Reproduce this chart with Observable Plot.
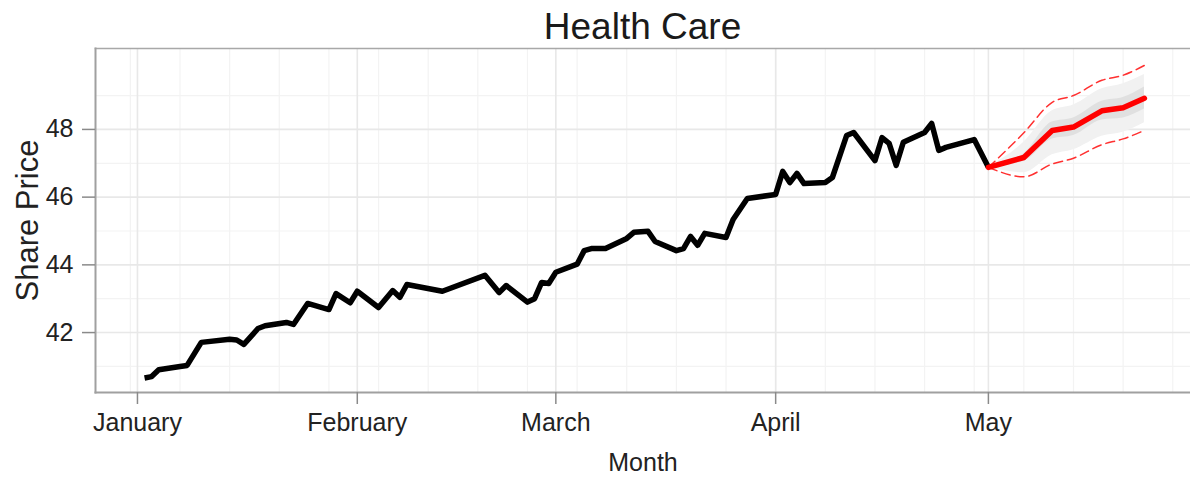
<!DOCTYPE html>
<html>
<head>
<meta charset="utf-8">
<script src="https://cdn.jsdelivr.net/npm/d3@7"></script>
<script src="https://cdn.jsdelivr.net/npm/@observablehq/plot@0.6"></script>
<style>
  body { margin: 0; background: #fff; font-family: "Liberation Sans", Arial, sans-serif; }
  #wrap { width: 1190px; height: 478px; position: relative; overflow: hidden; }
  #title { height: 48px; position: relative; }
  #title span { position: absolute; left: 95px; width: 1095px; top: 8px; text-align: center;
    font-size: 37px; line-height: 1; color: #1a1a1a; }
</style>
</head>
<body>
<div id="wrap">
  <div id="title"><span>Health Care</span></div>
  <div id="chart"></div>
</div>
<script>
// ---- data ----
const obsDates = ["2014-01-02","2014-01-03","2014-01-04","2014-01-07","2014-01-08","2014-01-10","2014-01-14","2014-01-15","2014-01-16","2014-01-18","2014-01-19","2014-01-22","2014-01-23","2014-01-25","2014-01-28","2014-01-29","2014-01-31",
"2014-02-01","2014-02-04","2014-02-06","2014-02-07","2014-02-08","2014-02-13","2014-02-19","2014-02-21","2014-02-22","2014-02-25","2014-02-26","2014-02-27","2014-02-28",
"2014-03-01","2014-03-04","2014-03-05","2014-03-06","2014-03-08","2014-03-11","2014-03-12","2014-03-14","2014-03-15","2014-03-18","2014-03-19","2014-03-20","2014-03-21","2014-03-22","2014-03-25","2014-03-26","2014-03-28",
"2014-04-01","2014-04-02","2014-04-03","2014-04-04","2014-04-05","2014-04-08","2014-04-09","2014-04-11","2014-04-12","2014-04-15","2014-04-16","2014-04-17","2014-04-18","2014-04-19","2014-04-22","2014-04-23","2014-04-24","2014-04-25","2014-04-29","2014-05-01"];
const obsValues = [40.66,40.70,40.90,41.00,41.03,41.71,41.80,41.78,41.65,42.12,42.20,42.30,42.24,42.86,42.68,43.15,42.88,
43.22,42.74,43.24,43.04,43.42,43.22,43.69,43.18,43.39,42.90,43.00,43.48,43.45,
43.78,44.02,44.42,44.48,44.48,44.78,44.96,44.99,44.69,44.42,44.48,44.84,44.58,44.93,44.81,45.34,45.96,
46.08,46.76,46.43,46.70,46.40,46.43,46.58,47.82,47.91,47.08,47.76,47.59,46.94,47.62,47.91,48.18,47.38,47.47,47.70,46.88];

const fcDates   = ["2014-05-01","2014-05-06","2014-05-10","2014-05-13","2014-05-17","2014-05-20","2014-05-23"];
const fcMean    = [46.88,47.17,47.97,48.07,48.55,48.64,48.92];
const fcLower   = [46.88,46.60,46.98,47.15,47.55,47.72,47.97];   // dashed
const fcUpper   = [46.88,47.90,48.80,49.00,49.45,49.60,49.89];   // dashed
const fanOutLo  = [46.88,46.72,47.25,47.40,47.80,47.92,48.20];
const fanOutHi  = [46.88,47.62,48.55,48.72,49.20,49.35,49.62];
const fanInLo   = [46.88,47.06,47.72,47.82,48.28,48.34,48.60];
const fanInHi   = [46.88,47.28,48.22,48.34,48.83,48.94,49.25];

const monthTicks = ["2014-01-01","2014-02-01","2014-03-01","2014-04-01","2014-05-01"];
const weekBreaks = ["2013-12-31","2014-01-07","2014-01-14","2014-01-21","2014-01-28","2014-02-04","2014-02-11","2014-02-18","2014-02-25","2014-03-04","2014-03-11","2014-03-18","2014-03-25","2014-04-01","2014-04-08","2014-04-15","2014-04-22","2014-04-29","2014-05-06","2014-05-13","2014-05-20","2014-05-27"];
const yTicks = [42, 44, 46, 48];
const yMinor = [41, 43, 45, 47, 49];
const xDomain = ["2013-12-26T02:00:00Z", "2014-05-29T12:00:00Z"];
const yDomain = [40.23, 50.39];

// ---- build tables ----
const P = d3.isoParse;
const obs = obsDates.map((d, i) => ({date: P(d), value: obsValues[i]}));
const fc = fcDates.map((d, i) => ({date: P(d), mean: fcMean[i], lo: fcLower[i], hi: fcUpper[i],
  olo: fanOutLo[i], ohi: fanOutHi[i], ilo: fanInLo[i], ihi: fanInHi[i]}));
const months = monthTicks.map(P);
const weeks = weekBreaks.map(P);
const fmt = d3.utcFormat("%B");

const chart = Plot.plot({
  width: 1190,
  height: 430,
  marginTop: 0,
  marginBottom: 86,
  marginLeft: 95,
  marginRight: 0,
  style: {fontFamily: "Liberation Sans, Arial, sans-serif", background: "#fff", overflow: "visible"},
  x: {type: "utc", domain: xDomain.map(P)},
  y: {domain: yDomain},
  marks: [
    // minor grid
    Plot.ruleY(yMinor, {stroke: "#f3f3f3", strokeWidth: 1.2}),
    Plot.ruleX(weeks, {stroke: "#f3f3f3", strokeWidth: 1.2}),
    // major grid
    Plot.ruleY(yTicks, {stroke: "#e8e8e8", strokeWidth: 1.6}),
    Plot.ruleX(months, {stroke: "#e8e8e8", strokeWidth: 1.6}),
    // fan
    Plot.areaY(fc, {x: "date", y1: "olo", y2: "ohi", fill: "#f1f1f1", curve: "monotone-x"}),
    Plot.areaY(fc, {x: "date", y1: "ilo", y2: "ihi", fill: "#e0e0e0", curve: "monotone-x"}),
    // observed
    Plot.line(obs, {x: "date", y: "value", stroke: "#000", strokeWidth: 5.5, strokeLinejoin: "round", strokeLinecap: "butt"}),
    // forecast intervals
    Plot.line(fc, {x: "date", y: "lo", stroke: "#ff3030", strokeWidth: 1.5, strokeDasharray: "9,5", curve: "monotone-x"}),
    Plot.line(fc, {x: "date", y: "hi", stroke: "#ff3030", strokeWidth: 1.5, strokeDasharray: "9,5", curve: "monotone-x"}),
    Plot.line(fc, {x: "date", y: "mean", stroke: "#ff0000", strokeWidth: 5.5, strokeLinejoin: "round"}),
    // panel borders
    Plot.frame({anchor: "top", stroke: "#a8a8a8", strokeWidth: 1.6}),
    Plot.frame({anchor: "left", stroke: "#a0a0a0", strokeWidth: 2}),
    Plot.frame({anchor: "bottom", stroke: "#a0a0a0", strokeWidth: 2}),
    // axes
    Plot.axisX({ticks: months, tickFormat: d => fmt(d), tickSize: 12, tickPadding: 9, fontSize: 25,
      stroke: "#8a8a8a", strokeWidth: 1.5, fill: "#222", label: null}),
    Plot.axisY({ticks: yTicks, tickFormat: d => String(d), tickSize: 13, tickPadding: 9, fontSize: 25,
      stroke: "#8a8a8a", strokeWidth: 1.5, fill: "#222", label: null}),
    // axis titles
    Plot.text(["Month"], {frameAnchor: "bottom", dy: 78, lineAnchor: "bottom", fontSize: 25, fill: "#222"}),
    Plot.text(["Share Price"], {frameAnchor: "left", dx: -58, rotate: -90, textAnchor: "middle", lineAnchor: "bottom", fontSize: 31, fill: "#222"})
  ]
});
document.getElementById("chart").appendChild(chart);
</script>
</body>
</html>
